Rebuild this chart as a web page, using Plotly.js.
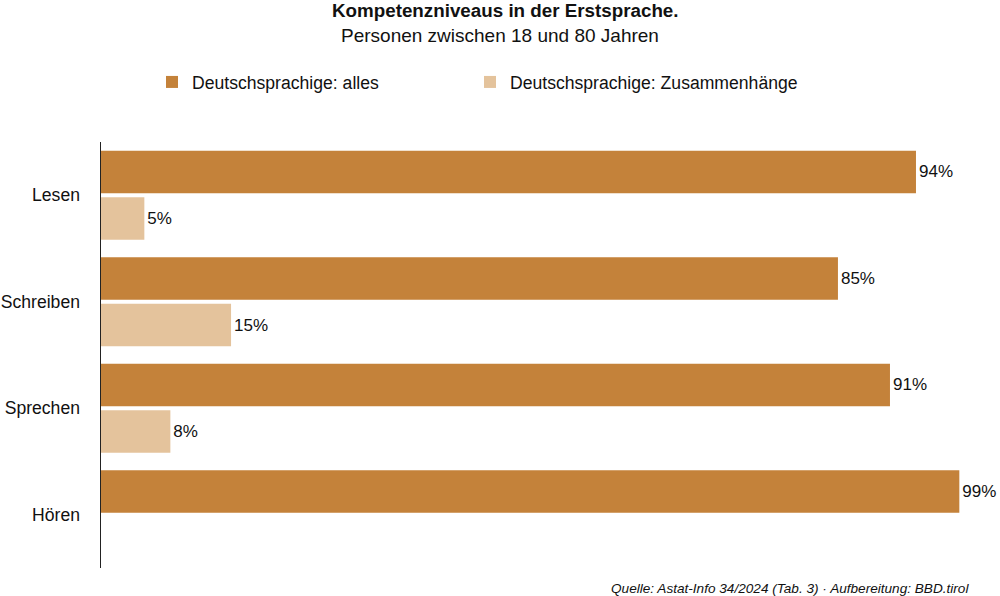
<!DOCTYPE html>
<html>
<head>
<meta charset="utf-8">
<script src="https://cdn.plot.ly/plotly-3.0.1.min.js"></script>
<style>html,body{margin:0;padding:0;background:#fff;}#chart{width:1000px;height:596px;}</style>
</head>
<body>
<div id="chart"></div>
<script>
const categories = ["Lesen", "Schreiben", "Sprechen", "Hören"];
const seriesNames = ["Deutschsprachige: alles", "Deutschsprachige: Zusammenhänge"];
const valuesAlles = [94, 85, 91, 99];
const valuesZusammenhaenge = [5, 15, 8, null];
const colors = ["#C4823A", "#E4C39C"];
const titleText = "Kompetenzniveaus in der Erstsprache.";
const subtitleText = "Personen zwischen 18 und 80 Jahren";
const sourceText = "Quelle: Astat-Info 34/2024 (Tab. 3) · Aufbereitung: BBD.tirol";

const fontFam = '"Liberation Sans", Arial, Helvetica, sans-serif';

function labels(vals){ return vals.map(v => v === null ? "" : v + "%"); }

const traces = [
  {type: "bar", orientation: "h", name: seriesNames[0], y: categories, x: valuesAlles,
   marker: {color: colors[0]}, text: labels(valuesAlles), textposition: "outside",
   cliponaxis: false, textfont: {size: 17, color: "#111", family: fontFam}, hoverinfo: "x+y",
   legend: "legend"},
  {type: "bar", orientation: "h", name: seriesNames[1], y: categories, x: valuesZusammenhaenge,
   marker: {color: colors[1]}, text: labels(valuesZusammenhaenge), textposition: "outside",
   cliponaxis: false, textfont: {size: 17, color: "#111", family: fontFam}, hoverinfo: "x+y",
   legend: "legend2"}
];

const T = 142, B = 568, L = 101, R = 968;
const py = px => (B - px) / (B - T);
const pxx = px => (px - L) / (R - L);

const legendBase = {
  orientation: "h", xref: "container", yref: "container",
  xanchor: "left", y: 1 - 82/596, yanchor: "middle",
  font: {size: 17.6, color: "#111", family: fontFam},
  bgcolor: "rgba(0,0,0,0)"
};

const layout = {
  width: 1000, height: 596,
  paper_bgcolor: "#fff", plot_bgcolor: "#fff",
  font: {family: fontFam, color: "#111"},
  margin: {l: L, r: 1000 - R, t: T, b: 596 - B},
  barmode: "group",
  bargap: 0.124,
  bargroupgap: 0.087,
  xaxis: {range: [0, 100], visible: false, showgrid: false, zeroline: false, fixedrange: true},
  yaxis: {
    type: "category", autorange: "reversed",
    showline: true, linecolor: "#222", linewidth: 1.5,
    ticks: "", ticklabelstandoff: 16,
    tickfont: {size: 17.6, color: "#111", family: fontFam},
    showgrid: false, zeroline: false, fixedrange: true
  },
  legend: Object.assign({}, legendBase, {x: 0.152}),
  legend2: Object.assign({}, legendBase, {x: 0.470}),
  showlegend: true,
  annotations: [
    {text: "<b>" + titleText + "</b>", xref: "paper", yref: "paper",
     x: pxx(505), xanchor: "center", y: py(11), yanchor: "middle",
     showarrow: false, font: {size: 18.8, color: "#111", family: fontFam}},
    {text: subtitleText, xref: "paper", yref: "paper",
     x: pxx(500), xanchor: "center", y: py(35), yanchor: "middle",
     showarrow: false, font: {size: 19, color: "#111", family: fontFam}},
    {text: "<i>" + sourceText + "</i>", xref: "paper", yref: "paper",
     x: pxx(971), xanchor: "right", y: py(588), yanchor: "middle",
     showarrow: false, font: {size: 13.6, color: "#111", family: fontFam}}
  ]
};

Plotly.newPlot("chart", traces, layout, {displayModeBar: false, staticPlot: true});
</script>
</body>
</html>
